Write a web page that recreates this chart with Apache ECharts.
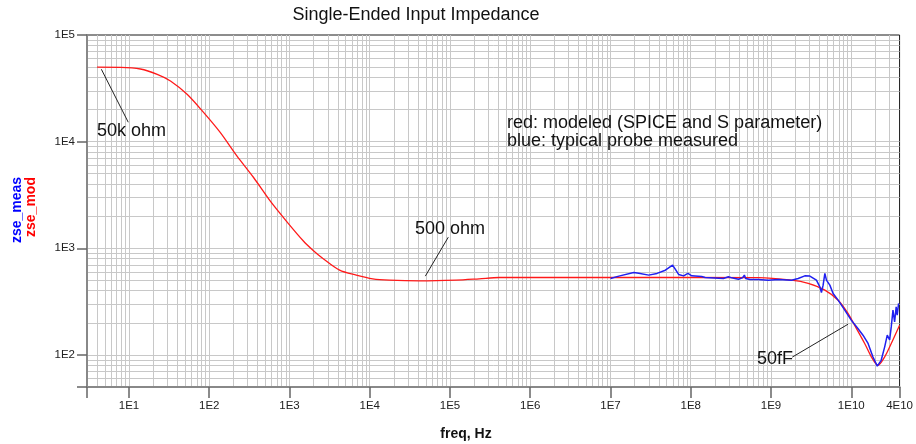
<!DOCTYPE html>
<html>
<head>
<meta charset="utf-8">
<script src="https://cdn.jsdelivr.net/npm/echarts@6/dist/echarts.min.js"></script>
<style>
  html, body { margin: 0; padding: 0; background: #fff; }
  #chart { width: 916px; height: 444px; }
</style>
</head>
<body>
<div id="chart"></div>
<script>
// Modeled impedance (SPICE + S-parameter), frequency in Hz, |Z| in ohm
const modFreq = [4.0, 7.9, 13.9, 22.5, 32.9, 53, 85.5, 137, 221, 357, 574, 925, 1490, 1960, 2610, 4210, 6790,
  10900, 17600, 41600, 119000, 231000, 410000, 2.07e6, 1.05e7, 6.95e8, 1.8e9, 2.91e9, 4.69e9, 6.86e9,
  9.12e9, 1.10e10, 1.47e10, 1.78e10, 2.15e10, 2.61e10, 3.15e10, 4.0e10];
const modZ = [50000, 49800, 48000, 42800, 37100, 27800, 18700, 12200, 7350, 4610, 2780, 1780, 1170, 959, 802, 623, 560,
  517, 502, 494, 502, 517, 532, 532, 532, 530, 502, 468, 405, 326,
  245, 190, 128, 96, 80, 96, 128, 190];

// Typical probe measurement
const measFreq = [1.0e7, 1.27e7, 1.95e7, 2.25e7, 2.99e7, 3.80e7, 4.82e7, 5.94e7, 6.53e7, 7.06e7, 8.15e7, 9.21e7,
  1.03e8, 1.37e8, 1.51e8, 2.55e8, 2.95e8, 3.24e8, 3.93e8, 4.40e8, 4.66e8, 4.83e8, 5.48e8, 6.95e8, 9.25e8,
  1.23e9, 1.80e9, 2.18e9, 2.64e9, 3.05e9, 3.68e9, 4.06e9, 4.25e9, 4.46e9, 4.69e9, 4.91e9, 5.41e9, 5.94e9,
  6.86e9, 8.30e9, 1.00e10, 1.21e10, 1.40e10, 1.62e10, 1.86e10, 2.11e10, 2.36e10, 2.61e10, 2.81e10, 3.01e10,
  3.15e10, 3.31e10, 3.47e10, 3.63e10, 3.74e10, 3.89e10];
const measZ = [521, 548, 593, 584, 560, 581, 623, 695, 623, 568, 551, 581,
  551, 544, 532, 521, 540, 528, 513, 528, 560, 521, 510, 510, 502,
  510, 502, 521, 551, 548, 502, 435, 385, 451, 581, 502, 451, 377,
  326, 263, 212, 177, 153, 128, 96, 78.5, 89, 119, 153, 138,
  183, 263, 204, 282, 236, 304];

// Axis ranges and tick labels
const xMin = 3, xMax = 4e10;
const yMin = 50, yMax = 1e5;
const xTickValues = [1e1, 1e2, 1e3, 1e4, 1e5, 1e6, 1e7, 1e8, 1e9, 1e10, 4e10];
const xTickText = ['1E1', '1E2', '1E3', '1E4', '1E5', '1E6', '1E7', '1E8', '1E9', '1E10', '4E10'];
const yTickValues = [1e2, 1e3, 1e4, 1e5];
const yTickText = ['1E2', '1E3', '1E4', '1E5'];

// Leader lines for the annotations: [from, to] in data coordinates
const leader50k = [[4.53, 47700], [9.8, 15200]];
const leader500 = [[95300, 1270], [49300, 548]];
const leader50f = [[1.84e9, 95.3], [9.12e9, 194]];

function tickLabel(values, texts) {
  return function (v) {
    for (let i = 0; i < values.length; i++) {
      if (Math.abs(v - values[i]) / values[i] < 1e-6) return texts[i];
    }
    return '';
  };
}

// Logarithmic grid: 1..9 per decade inside the plotted range
function logGrid(lo, hi) {
  const out = [];
  for (let d = -1; d <= 11; d++) {
    for (let k = 1; k <= 9; k++) {
      const v = k * Math.pow(10, d);
      if (v > lo * 1.0001 && v < hi * 0.9999) out.push(v);
    }
  }
  return out;
}

const zip = (a, b) => a.map((v, i) => [v, b[i]]);
const FONT = 'Liberation Sans, Arial, sans-serif';

const gridMarks = logGrid(xMin, xMax).map(v => ({ xAxis: v }))
  .concat(logGrid(yMin, yMax).map(v => ({ yAxis: v })));

const leaderLines = [leader50k, leader500, leader50f].map(seg => [
  { coord: seg[0] }, { coord: seg[1] }
]);

const chart = echarts.init(document.getElementById('chart'), null, { renderer: 'canvas' });

chart.setOption({
  animation: false,
  backgroundColor: '#ffffff',
  grid: {
    left: 87, right: 15, top: 35, bottom: 57,
    show: true, borderColor: '#1a1a1a', borderWidth: 1,
    containLabel: false
  },
  xAxis: {
    type: 'log', logBase: 10, min: xMin, max: xMax,
    axisLine: { show: true, lineStyle: { color: '#888', width: 2 } },
    axisTick: {
      show: true, length: 11, lineStyle: { color: '#666', width: 1.5 },
      customValues: [xMin].concat(xTickValues)
    },
    axisLabel: {
      show: true, margin: 13, color: '#222', fontSize: 11.5, fontFamily: FONT,
      customValues: xTickValues,
      formatter: tickLabel(xTickValues, xTickText)
    },
    splitLine: { show: false }
  },
  yAxis: {
    type: 'log', logBase: 10, min: yMin, max: yMax,
    axisLine: { show: true, lineStyle: { color: '#888', width: 2 } },
    axisTick: {
      show: true, length: 10, lineStyle: { color: '#666', width: 1.5 },
      customValues: [yMin].concat(yTickValues)
    },
    axisLabel: {
      show: true, margin: 12, color: '#222', fontSize: 11.5, fontFamily: FONT,
      customValues: yTickValues,
      formatter: tickLabel(yTickValues, yTickText)
    },
    splitLine: { show: false }
  },
  graphic: [
    { type: 'text', x: 416, y: 15, style: { text: 'Single-Ended Input Impedance', fill: '#111', font: '18px ' + FONT, textAlign: 'center', textVerticalAlign: 'middle' } },
    { type: 'text', x: 466, y: 434, style: { text: 'freq, Hz', fill: '#111', font: 'bold 14px ' + FONT, textAlign: 'center', textVerticalAlign: 'middle' } },
    { type: 'text', x: 17, y: 210, rotation: Math.PI / 2, style: { text: 'zse_meas', fill: '#0000ff', font: 'bold 14px ' + FONT, textAlign: 'center', textVerticalAlign: 'middle' } },
    { type: 'text', x: 31, y: 207, rotation: Math.PI / 2, style: { text: 'zse_mod', fill: '#ff0000', font: 'bold 14px ' + FONT, textAlign: 'center', textVerticalAlign: 'middle' } },
    { type: 'text', x: 97, y: 131.5, z: 10, style: { text: '50k ohm', fill: '#111', font: '18px ' + FONT, textAlign: 'left', textVerticalAlign: 'middle' } },
    { type: 'text', x: 415, y: 229.5, z: 10, style: { text: '500 ohm', fill: '#111', font: '18px ' + FONT, textAlign: 'left', textVerticalAlign: 'middle' } },
    { type: 'text', x: 507, y: 123, z: 10, style: { text: 'red: modeled (SPICE and S parameter)', fill: '#111', font: '18px ' + FONT, textAlign: 'left', textVerticalAlign: 'middle' } },
    { type: 'text', x: 507, y: 141, z: 10, style: { text: 'blue: typical probe measured', fill: '#111', font: '18px ' + FONT, textAlign: 'left', textVerticalAlign: 'middle' } },
    { type: 'text', x: 793, y: 359.5, z: 10, style: { text: '50fF', fill: '#111', font: '18px ' + FONT, textAlign: 'right', textVerticalAlign: 'middle' } }
  ],
  series: [
    {
      name: 'grid', type: 'line', data: [], z: 0, silent: true,
      markLine: {
        z: 0, silent: true, symbol: ['none', 'none'], animation: false,
        label: { show: false },
        lineStyle: { color: '#c8c8c8', width: 1, type: 'solid' },
        emphasis: { disabled: true },
        data: gridMarks
      }
    },
    {
      name: 'zse_mod', type: 'line', data: zip(modFreq, modZ), z: 3,
      showSymbol: false, smooth: 0.3, silent: true,
      lineStyle: { color: '#ff1a1a', width: 1.3 },
      markLine: {
        z: 6, silent: true, symbol: ['none', 'none'], animation: false,
        label: { show: false },
        lineStyle: { color: '#222', width: 1, type: 'solid' },
        emphasis: { disabled: true },
        data: leaderLines
      }
    },
    {
      name: 'zse_meas', type: 'line', data: zip(measFreq, measZ), z: 4,
      showSymbol: false, silent: true,
      lineStyle: { color: '#2020f0', width: 1.5 }
    }
  ]
});
</script>
</body>
</html>
